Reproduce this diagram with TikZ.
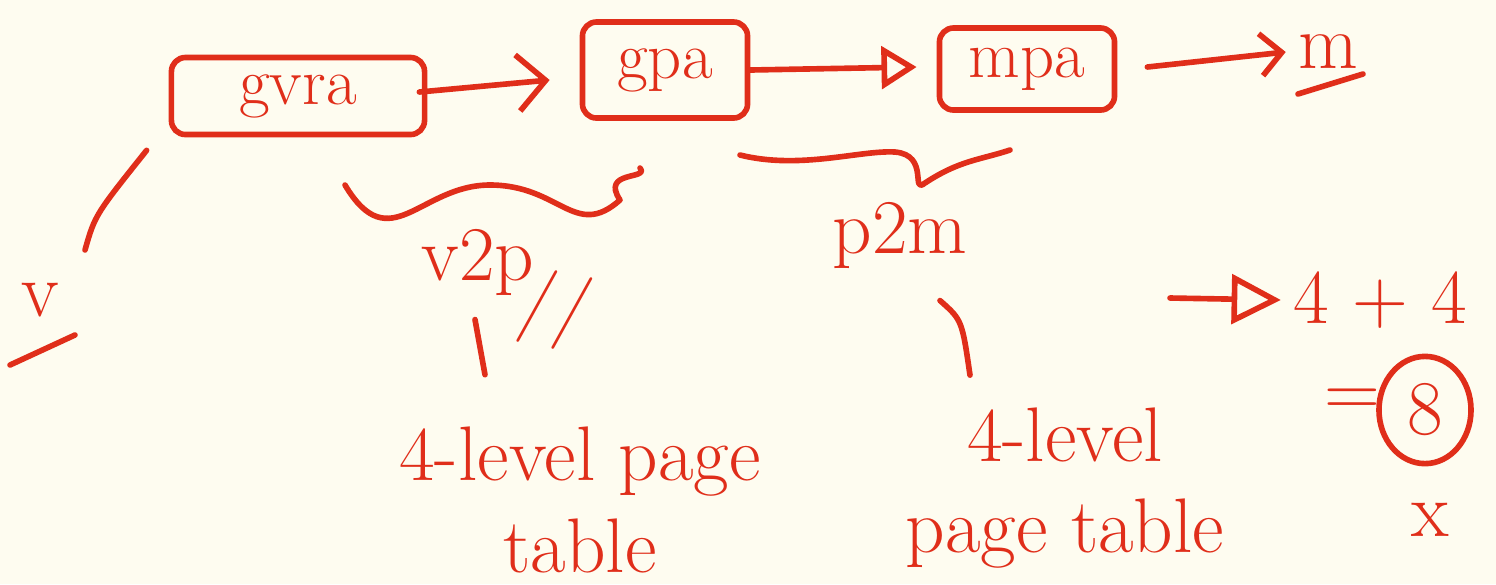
\documentclass[tikz,border=0pt]{standalone}
\usepackage{tikz}
\usetikzlibrary{arrows.meta,shapes.geometric,calc}
\definecolor{pen}{HTML}{E02E1A}
\definecolor{paper}{HTML}{FEFCF0}
\tikzset{
  ink/.style={draw=pen, line width=1.6pt, line cap=round, line join=round},
  addr/.style={ink, rounded corners=4pt, text=pen, font=\fontsize{19}{23}\selectfont},
  note/.style={text=pen, font=\fontsize{22}{26}\selectfont, align=center}
}
\begin{document}
\begin{tikzpicture}[x=0.01cm, y=-0.01cm]
	\fill[paper] (0,0) rectangle (1496,584);
	\useasboundingbox (0,0) rectangle (1496,584);

	% address boxes
	\node[addr, minimum width=2.53cm, minimum height=0.77cm] (gvra) at (298,96) {gvra};
	\node[addr, minimum width=1.65cm, minimum height=0.96cm] (gpa) at (665,70) {gpa};
	\node[addr, minimum width=1.75cm, minimum height=0.82cm] (mpa) at (1027,69) {mpa};
	\node[note] (m) at (1328,52) {m};
	\node[note] (v) at (40,300) {v};

	\draw[ink, -{Straight Barb[length=8pt]}] ($(gvra.east)+(-8,-4)$) -- ($(gpa.west)+(-30,10)$);
	\draw[ink, -{Triangle[open, length=10pt, width=12pt]}] (gpa.east) -- ($(mpa.west)+(-20,-2)$);
	\draw[ink, -{Straight Barb[length=6pt]}] ($(mpa.east)+(30,-2)$) -- (m.west);
	\draw[ink] ($(m.center)+(-30,42)$) -- ($(m.center)+(35,22)$);
	\draw[ink] ($(v.center)+(-30,65)$) -- ($(v.center)+(35,35)$);
	\draw[ink] ($(v.center)+(45,-50)$) .. controls (95,215) .. ($(gvra.south west)+(-22,13)$);

	% v2p
	\draw[ink] (345,185) .. controls (390,260) and (420,185) .. (490,185)
	  .. controls (560,185) and (575,240) .. (620,200) .. controls (600,170) and (650,180) .. (640,168);
	\node[note] (v2p) at (478,262) {v2p};
	\node[note, rotate=-10] (mark) at (555,310) {//};
	\node[note] (pt1) at (580,500) {4-level page\\table};
	\draw[ink] ($(v2p.south)+(-3,12)$) -- ($(pt1.north)+(-95,-40)$);

	% p2m
	\draw[ink] (740,155) .. controls (800,170) and (860,150) .. (895,152)
	  .. controls (930,155) and (910,195) .. (925,183) .. controls (960,160) and (980,160) .. (1010,150);
	\node[note] (p2m) at (900,235) {p2m};
	\node[note] (pt2) at (1065,488) {4-level\\page table};
	\draw[ink] ($(p2m.south)+(40,20)$) .. controls (962,320) .. ($(pt2.north)+(-95,-20)$);

	% result
	\node[note] (sum) at (1380,300) {4 + 4};
	\coordinate (imp) at (1170,298);
	\draw[ink, -{Triangle[open, length=14pt, width=14pt]}] (imp) -- (sum.west);
	\node[note] (eq) at (1352,403) {=};
	\node[note, ellipse, ink, minimum width=0.92cm, minimum height=0.95cm] (eight) at (1425,410) {8};
	\node[note] (cross) at (1430,520) {x};
\end{tikzpicture}
\end{document}
